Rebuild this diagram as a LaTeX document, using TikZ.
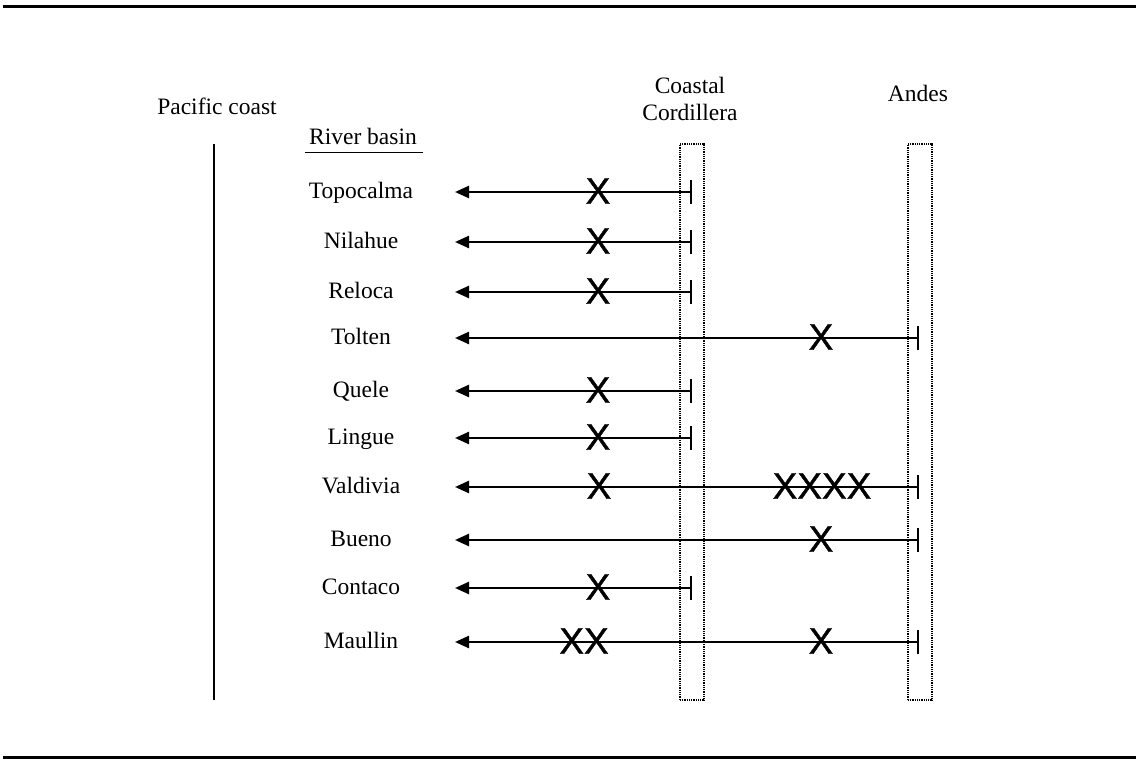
\documentclass[tikz,border=0pt]{standalone}
\usepackage{fontspec}
\setmainfont{Liberation Serif}
\newfontfamily\xfont[FakeBold=1]{Liberation Sans}
\usetikzlibrary{arrows.meta}
\begin{document}
\begin{tikzpicture}[x=1pt,y=-1pt,
  lbl/.style={inner sep=0pt,anchor=base,font=\fontsize{23.5}{24}\selectfont},
  xmark/.style={inner sep=0pt,anchor=center,font=\xfont\fontsize{37}{37}\selectfont},
  flow/.style={line width=2.4pt,{Bar[width=24pt,line width=1.8pt]}-{Triangle[length=14pt,width=12pt]}},
  zone/.style={draw,dash pattern=on 1pt off 0.8pt,line width=1.1pt,minimum width=24pt,minimum height=556pt,inner sep=0pt},
  rule/.style={line width=2.6pt}]
\useasboundingbox (0,0) rectangle (1136,759);
% rules
\coordinate (tl) at (3,6.5); \coordinate (tr) at (1136,6.5);
\coordinate (bl) at (3,757.5); \coordinate (br) at (1136,757.5);
\draw[rule] (tl) -- (tr);
\draw[line width=3pt] (bl) -- (br);
% headings
\node[lbl] (pac) at (217,115) {Pacific coast};
\node[lbl] (rb) at (363,145) {River basin};
\coordinate (rbl) at (305,152.7); \coordinate (rbr) at (423,152.7);
\draw[line width=1.2pt] (rbl) -- (rbr);
\node[lbl] (cc1) at (690,94) {Coastal};
\node[lbl] (cc2) at (690,121) {Cordillera};
\node[lbl] (and) at (918,101.5) {Andes};
% coast line
\coordinate (pt) at (214,144); \coordinate (pb) at (214,700);
\draw[line width=2.2pt] (pt) -- (pb);
% zones
\node[zone] (cz) at (692,422) {};
\node[zone] (az) at (920,422) {};
% rows
\foreach \i/\y/\ex/\name in {1/192/692/Topocalma,2/242/692/Nilahue,3/292/692/Reloca,4/338/919/Tolten,5/391/692/Quele,6/438/692/Lingue,7/487/919/Valdivia,8/540/919/Bueno,9/588/692/Contaco,10/642/919/Maullin}{
  \node[lbl] (n\i) at (361,\y+6.5) {\name};
  \coordinate (s\i) at (455,\y);
  \coordinate (e\i) at (\ex,\y);
  \draw[flow] (e\i) -- (s\i);
}
% marks
\node[xmark] (x1) at (598,191) {X};
\node[xmark] (x2) at (598,241) {X};
\node[xmark] (x3) at (598,291) {X};
\node[xmark] (x4) at (821,337) {X};
\node[xmark] (x5) at (598,390) {X};
\node[xmark] (x6) at (598,437) {X};
\node[xmark] (x7a) at (599,486) {X};
\node[xmark] (x7b) at (822,486) {XXXX};
\node[xmark] (x8) at (821,539) {X};
\node[xmark] (x9) at (598,587) {X};
\node[xmark] (x10a) at (584,641) {XX};
\node[xmark] (x10b) at (821,641) {X};
\end{tikzpicture}
\end{document}
